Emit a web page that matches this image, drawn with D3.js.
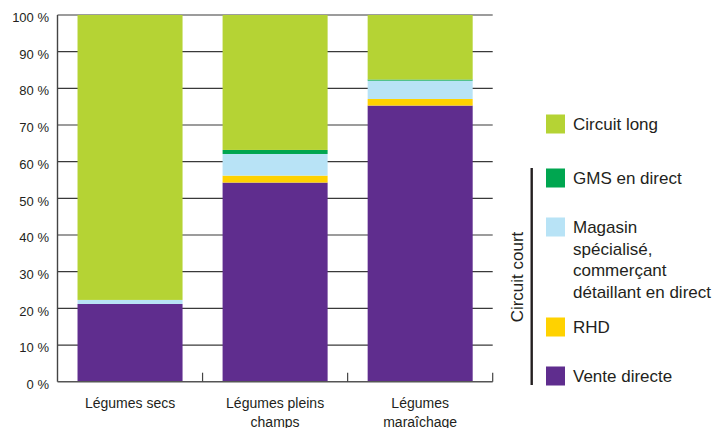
<!DOCTYPE html>
<html><head><meta charset="utf-8">
<script src="https://cdn.jsdelivr.net/npm/d3@7"></script>
<style>body{margin:0;background:#fff}svg{display:block}text{font-family:"Liberation Sans",Arial,sans-serif;fill:#231f20}</style>
</head><body><svg id="c" width="714" height="428"></svg>
<script>
const categories = [["Légumes secs"], ["Légumes pleins", "champs"], ["Légumes", "maraîchage"]];
const seriesNames = ["Vente directe", "RHD", "Magasin spécialisé, commerçant détaillant en direct", "GMS en direct", "Circuit long"];
const venteDirecte = [21.2, 54.3, 75.3];
const rhd = [0, 1.9, 1.8];
const magasin = [1.1, 5.9, 5.0];
const gms = [0, 1.1, 0.3];
const circuitLong = [77.7, 36.8, 17.6];
const colors = ["#5f2d8e", "#ffd200", "#b8e3f6", "#00a650", "#b5d334"];
const yTicks = [0, 10, 20, 30, 40, 50, 60, 70, 80, 90, 100];
const legendItems = [
  {name: ["Circuit long"], color: 4},
  {name: ["GMS en direct"], color: 3},
  {name: ["Magasin", "spécialisé,", "commerçant", "détaillant en direct"], color: 2},
  {name: ["RHD"], color: 1},
  {name: ["Vente directe"], color: 0}
];
const bracketLabel = "Circuit court";

const svg = d3.select("#c");
const L = 57.5, R = 492.7, T = 15, B = 381.7;
const x = d3.scaleBand().domain(d3.range(categories.length)).range([L, R]).paddingInner(0.276).paddingOuter(0.138);
const y = d3.scaleLinear().domain([0, 100]).range([B, T]);

// grid lines
svg.append("g").selectAll("line").data(yTicks.slice(1)).join("line")
  .attr("x1", L).attr("x2", R).attr("y1", d => y(d)).attr("y2", d => y(d))
  .attr("stroke", "#3a3a3a").attr("stroke-width", 1.2);

// stacked bars
const table = categories.map((c, i) => ({i, s0: venteDirecte[i], s1: rhd[i], s2: magasin[i], s3: gms[i], s4: circuitLong[i]}));
const stack = d3.stack().keys(["s0", "s1", "s2", "s3", "s4"])(table);
svg.append("g").selectAll("g").data(stack).join("g").attr("fill", (d, k) => colors[k])
  .selectAll("rect").data(d => d).join("rect")
  .attr("x", d => x(d.data.i)).attr("width", x.bandwidth())
  .attr("y", d => y(d[1])).attr("height", d => Math.max(0, y(d[0]) - y(d[1])));

// axes lines
svg.append("line").attr("x1", L).attr("x2", L).attr("y1", T).attr("y2", B).attr("stroke", "#444").attr("stroke-width", 1.4);
svg.append("line").attr("x1", L).attr("x2", R).attr("y1", B).attr("y2", B).attr("stroke", "#555").attr("stroke-width", 1.6);
const step = x.step();
svg.append("g").selectAll("line").data(d3.range(1, categories.length + 1)).join("line")
  .attr("x1", d => L + d * step).attr("x2", d => L + d * step).attr("y1", B).attr("y2", B - 9)
  .attr("stroke", "#444").attr("stroke-width", 1.2);

// y labels
svg.append("g").selectAll("text").data(yTicks).join("text")
  .attr("x", 49).attr("y", d => y(d)).attr("dy", "0.55em").attr("text-anchor", "end")
  .attr("font-size", 13).text(d => d + " %");

// x labels
const xl = svg.append("g").selectAll("text").data(categories).join("text")
  .attr("text-anchor", "middle").attr("font-size", 14)
  .attr("transform", (d, i) => `translate(${x(i) + x.bandwidth() / 2},408)`);
xl.selectAll("tspan").data(d => d).join("tspan").attr("x", 0).attr("dy", (d, j) => j ? 18.5 : 0).text(d => d);

// legend
const legY = [124, 178, 227, 327, 376];
const lg = svg.append("g").selectAll("g").data(legendItems).join("g")
  .attr("transform", (d, i) => `translate(546,${legY[i]})`);
lg.append("rect").attr("x", 0).attr("y", -9.5).attr("width", 19).attr("height", 19).attr("fill", d => colors[d.color]);
const lt = lg.append("text").attr("x", 27).attr("y", 0).attr("dy", "0.36em").attr("font-size", 17);
lt.selectAll("tspan").data(d => d.name).join("tspan").attr("x", 27).attr("dy", (d, j) => j ? 21.5 : "0.36em").text(d => d);

// bracket
svg.append("line").attr("x1", 531.7).attr("x2", 531.7).attr("y1", 168).attr("y2", 385).attr("stroke", "#231f20").attr("stroke-width", 2.4);
svg.append("text").attr("transform", "translate(516.7,277) rotate(-90)").attr("text-anchor", "middle").attr("dy", "0.36em")
  .attr("font-size", 17).text(bracketLabel);
</script></body></html>
